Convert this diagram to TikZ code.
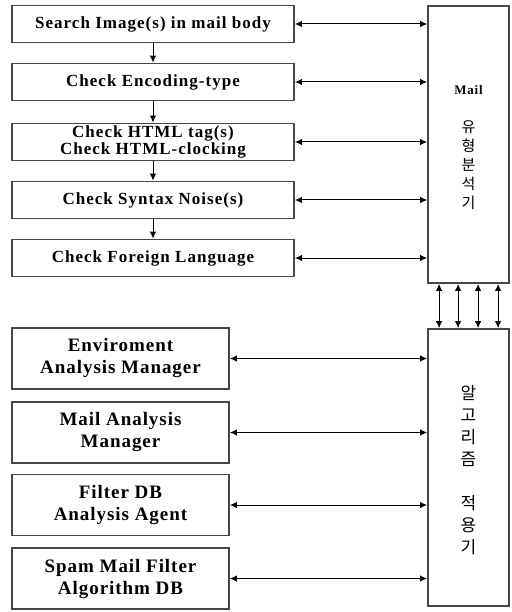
\documentclass[tikz,border=0pt]{standalone}
\usepackage{fontspec}
\setmainfont{Liberation Serif}
\newfontfamily\chkfont[LetterSpace=6]{Liberation Serif}
\newfontfamily\mgrfont[LetterSpace=5]{Liberation Serif}
\newfontfamily\kofont{Noto Sans CJK KR}
\usetikzlibrary{arrows.meta,calc}
\definecolor{frameC}{HTML}{474747}
\newcommand{\lblSearch}{Search Image(s) in mail body}
\newcommand{\lblEnc}{Check Encoding-type}
\newcommand{\lblHtml}{Check HTML tag(s)\\Check HTML-clocking}
\newcommand{\lblNoise}{Check Syntax Noise(s)}
\newcommand{\lblLang}{Check Foreign Language}
\newcommand{\lblEnv}{Enviroment\\Analysis Manager}
\newcommand{\lblMgr}{Mail Analysis\\Manager}
\newcommand{\lblFdb}{Filter DB\\Analysis Agent}
\newcommand{\lblAdb}{Spam Mail Filter\\Algorithm DB}
\newcommand{\lblAna}{{\chkfont\bfseries\fontsize{13}{19}\selectfont Mail}\\ \\
  유\\형\\분\\석\\기}
\newcommand{\lblApply}{알\\고\\리\\즘\\ \\적\\용\\기}

\begin{document}
\begin{tikzpicture}[
  x=1pt, y=-1pt,
  >={Latex[length=7pt,width=6.5pt]},
  box/.style  ={draw=frameC, line width=1.8pt, fill=white, align=center,
                inner sep=0pt},
  chk/.style  ={box, minimum width=282pt, minimum height=37pt,
                font=\chkfont\bfseries\fontsize{17}{17}\selectfont},
  mgr/.style  ={box, minimum width=217pt, minimum height=61pt,
                font=\mgrfont\bfseries\fontsize{19}{22}\selectfont},
  side/.style ={box, minimum width=81pt, minimum height=277pt},
  kotxt/.style={align=center, inner sep=0pt},
  flow/.style ={->, line width=1pt},
  link/.style ={<->, line width=1pt},
]
\useasboundingbox (0,0) rectangle (511,612);

% ---- geometry --------------------------------------------------------------
\def\cL{153}     % upper check column
\def\cM{120.5}   % lower manager column
\def\cR{468.5}   % right-hand column

% ---- upper column: the checks ----------------------------------------------
\node[chk] (srch)  at (\cL,24)  {\lblSearch};
\node[chk] (enc)   at (\cL,82)  {\lblEnc};
\node[chk] (html)  at (\cL,142) {\lblHtml};
\node[chk] (noise) at (\cL,200) {\lblNoise};
\node[chk] (lang)  at (\cL,258) {\lblLang};

\draw[flow] (srch)  -- (enc);
\draw[flow] (enc)   -- (html);
\draw[flow] (html)  -- (noise);
\draw[flow] (noise) -- (lang);

% ---- right column: the two analysers ---------------------------------------
\node[side] (ana)   at (\cR,144.5) {};
\node[side] (apply) at (\cR,467.5) {};
\node[kotxt, font=\kofont\fontsize{15}{19}\selectfont] (anaTxt)
  at ($(ana)+(0,3)$) {\lblAna};
\node[kotxt, font=\kofont\fontsize{17}{22}\selectfont] (applyTxt)
  at ($(apply)+(0,3)$) {\lblApply};

\foreach \n in {srch,enc,html,noise,lang}
  \draw[link] (\n.east) -- (\n.east -| ana.west);

% four links between the analysers
\foreach \dx in {12,31,51,71}
  \draw[link] ($(ana.south west)+(\dx,0)$) -- ($(apply.north west)+(\dx,0)$);

% ---- lower column: managers and databases ----------------------------------
\node[mgr] (env) at (\cM,358.5) {\lblEnv};
\node[mgr] (man) at (\cM,432.5) {\lblMgr};
\node[mgr] (fdb) at (\cM,505)   {\lblFdb};
\node[mgr] (adb) at (\cM,578.5) {\lblAdb};

\foreach \n in {env,man,fdb,adb}
  \draw[link] (\n.east) -- (\n.east -| apply.west);

\end{tikzpicture}
\end{document}
